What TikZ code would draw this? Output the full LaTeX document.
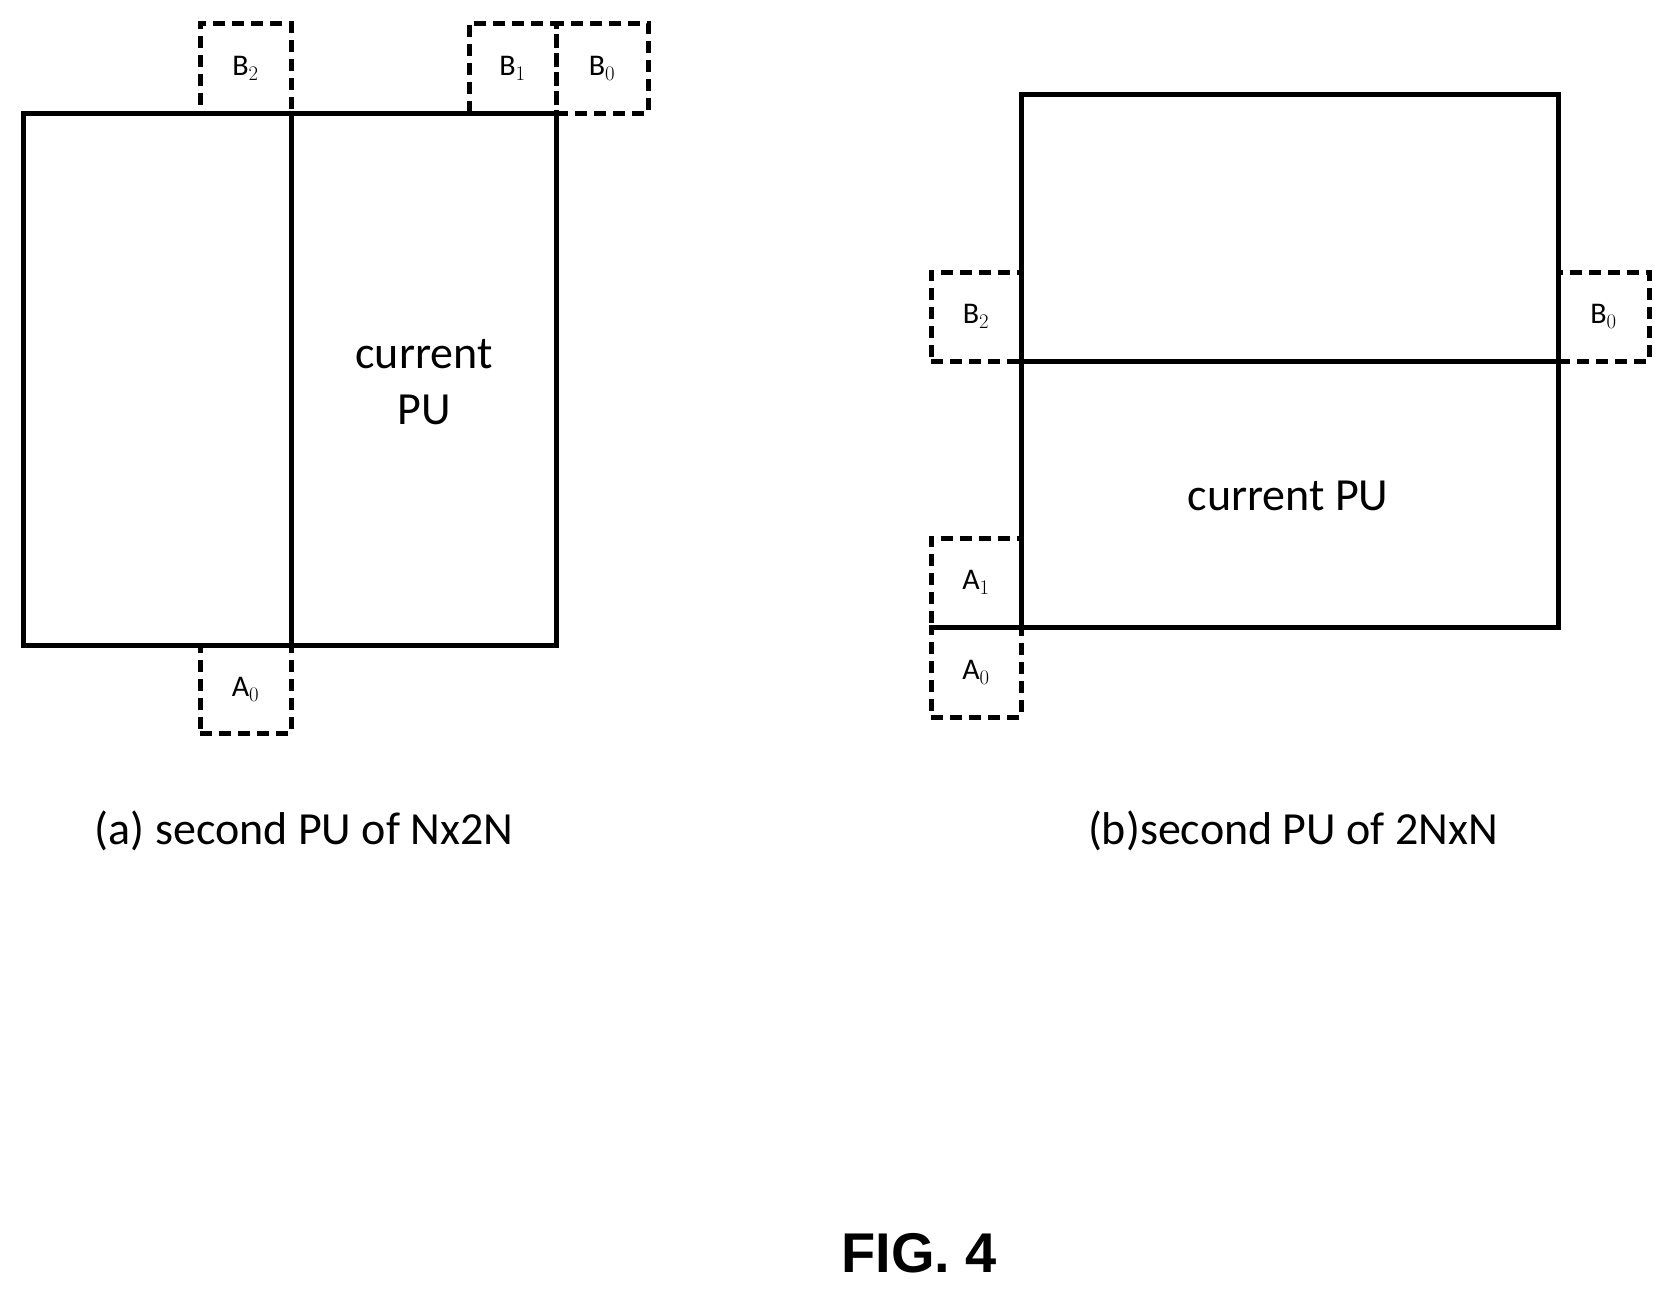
\documentclass[tikz,border=0pt]{standalone}
\usepackage{fontspec}
\setmainfont{Carlito}
\newfontfamily\figfont{Liberation Sans}
\begin{document}
\begin{tikzpicture}[x=1pt,y=-1pt,
  solid box/.style={draw,line width=5pt},
  nb/.style={draw,line width=5pt,dash pattern=on 12pt off 7pt,minimum width=88pt,minimum height=88pt,inner sep=0pt,font=\fontsize{30}{30}\selectfont},
  big/.style={font=\fontsize{46}{56}\selectfont,align=center},
  captxt/.style={font=\fontsize{46}{56}\selectfont}]
\useasboundingbox (0,0) rectangle (1672,1301);
% (a)
\draw[solid box] (23,113) rectangle (556,645);
\draw[solid box] (291,113) -- (291,645);
\node[nb,minimum width=91pt,minimum height=90pt] (aB2) at (245.5,68) {B$_2$};
\node[nb,minimum width=87pt,minimum height=90pt] (aB1) at (512.5,68) {B$_1$};
\node[nb,minimum width=92pt,minimum height=90pt] (aB0) at (602,68) {B$_0$};
\node[nb,minimum width=91pt,minimum height=88pt] (aA0) at (245.5,689) {A$_0$};
\node[big] (acur) at (424,382) {current\\PU};
\node[captxt] (acap) at (304,831) {(a) second PU of Nx2N};
% (b)
\draw[solid box] (1021,94) rectangle (1558,627);
\draw[solid box] (1021,361) -- (1558,361);
\node[nb,minimum width=90pt,minimum height=89pt] (bB2) at (976,316.5) {B$_2$};
\node[nb,minimum width=91pt,minimum height=89pt] (bB0) at (1603.5,316.5) {B$_0$};
\node[nb,minimum width=90pt,minimum height=89pt] (bA1) at (976,582.5) {A$_1$};
\node[nb,minimum width=90pt,minimum height=90pt] (bA0) at (976,672) {A$_0$};
\node[big] (bcur) at (1288,496) {current PU};
\node[captxt] (bcap) at (1293,831) {(b)second PU of 2NxN};
\node[font=\figfont\bfseries\fontsize{56}{60}\selectfont] (fig) at (919,1253) {FIG. 4};
\end{tikzpicture}
\end{document}
